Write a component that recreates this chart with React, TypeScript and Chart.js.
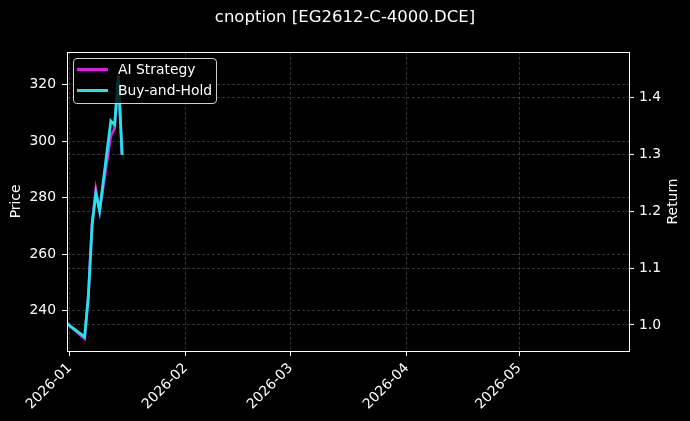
import { useEffect, useRef } from "react";
import { Chart, registerables } from "chart.js";

Chart.register(...registerables);

// trading days and normalized returns
const dates = [
  "2025-12-31", "2026-01-05", "2026-01-06", "2026-01-07", "2026-01-08",
  "2026-01-09", "2026-01-12", "2026-01-13", "2026-01-14", "2026-01-15",
];
const aiStrategy = [1.004, 0.976, 1.05, 1.178, 1.238, 1.2, 1.333, 1.345, 1.44, 1.299];
const buyAndHold = [1.004, 0.979, 1.051, 1.176, 1.232, 1.201, 1.359, 1.352, 1.438, 1.299];

const monthTicks = ["2026-01-01", "2026-02-01", "2026-03-01", "2026-04-01", "2026-05-01"];
const monthLabels = ["2026-01", "2026-02", "2026-03", "2026-04", "2026-05"];
const priceTicks = [240, 260, 280, 300, 320];
const returnTicks = [1.0, 1.1, 1.2, 1.3, 1.4];

const FONT = "DejaVu Sans";
const FS = 13.9;
const GRID = "rgba(150,150,150,0.5)";
const MAGENTA = "#dc1ee2";
const CYAN = "#1ee6e8";

function dayOffset(s: string): number {
  const [y, m, d] = s.split("-").map(Number);
  return (Date.UTC(y, m - 1, d) - Date.UTC(2026, 0, 1)) / 86400000;
}

// white box round the plot, plus the right axis title read bottom-to-top
const framePlugin = {
  id: "frame",
  afterDraw(chart: Chart) {
    const { ctx, chartArea: a } = chart;
    const l = Math.round(a.left) + 0.5;
    const t = Math.round(a.top) + 0.5;
    const r = Math.round(a.right) + 0.5;
    const b = Math.round(a.bottom) + 0.5;
    ctx.save();
    ctx.strokeStyle = "#ffffff";
    ctx.lineWidth = 1;
    ctx.strokeRect(l, t, r - l, b - t);
    ctx.translate(673, (a.top + a.bottom) / 2);
    ctx.rotate(-Math.PI / 2);
    ctx.fillStyle = "#ffffff";
    ctx.font = `${FS}px "${FONT}"`;
    ctx.textAlign = "center";
    ctx.textBaseline = "middle";
    ctx.fillText("Return", 0, 0);
    ctx.restore();
  },
};

export default function App() {
  const canvasRef = useRef<HTMLCanvasElement>(null);
  const chartRef = useRef<Chart | null>(null);

  useEffect(() => {
    document.body.style.margin = "0";
    document.body.style.background = "#000";
    if (!canvasRef.current) return;

    const xs = dates.map(dayOffset);
    const tickFont = { family: FONT, size: FS };
    const grid = { color: GRID, lineWidth: 0.7, tickColor: "#ffffff", tickLength: 5, tickWidth: 1 };
    const border = { display: false, dash: [3, 2] };

    chartRef.current?.destroy();
    chartRef.current = new Chart(canvasRef.current.getContext("2d")!, {
      type: "line",
      data: {
        datasets: [
          {
            label: "AI Strategy",
            data: xs.map((x, i) => ({ x, y: aiStrategy[i] })),
            borderColor: MAGENTA,
            borderWidth: 2.8,
            pointRadius: 0,
            tension: 0,
            yAxisID: "yRet",
            order: 1,
          },
          {
            label: "Buy-and-Hold",
            data: xs.map((x, i) => ({ x, y: buyAndHold[i] })),
            borderColor: CYAN,
            borderWidth: 2.8,
            pointRadius: 0,
            tension: 0,
            yAxisID: "yRet",
            order: 0,
          },
        ],
      },
      options: {
        responsive: false,
        animation: false,
        layout: { padding: 0 },
        plugins: {
          legend: { display: false },
          tooltip: { enabled: false },
          title: {
            display: true,
            text: "cnoption [EG2612-C-4000.DCE]",
            color: "#ffffff",
            font: { family: FONT, size: 16.5, weight: "normal" },
            padding: { top: 8, bottom: 24 },
          },
        },
        scales: {
          x: {
            type: "linear",
            min: -0.7,
            max: 149.3,
            afterBuildTicks: (s: any) => {
              s.ticks = monthTicks.map((d) => ({ value: dayOffset(d) }));
            },
            afterFit: (s: any) => {
              s.height = 70;
            },
            ticks: {
              color: "#ffffff",
              font: tickFont,
              minRotation: 45,
              maxRotation: 45,
              padding: 4,
              callback: (_v: any, i: number) => monthLabels[i],
            },
            grid,
            border,
          },
          yPrice: {
            type: "linear",
            position: "left",
            display: true,
            min: 225.7,
            max: 331.7,
            afterBuildTicks: (s: any) => {
              s.ticks = priceTicks.map((v) => ({ value: v }));
            },
            afterFit: (s: any) => {
              s.width = 67;
            },
            ticks: { color: "#ffffff", font: tickFont, padding: 6, callback: (v: any) => String(v) },
            grid,
            border,
            title: {
              display: true,
              text: "Price",
              color: "#ffffff",
              font: { family: FONT, size: FS },
              padding: { top: 8, bottom: 0 },
            },
          },
          yRet: {
            type: "linear",
            position: "right",
            min: 0.9542,
            max: 1.4805,
            afterBuildTicks: (s: any) => {
              s.ticks = returnTicks.map((v) => ({ value: v }));
            },
            afterFit: (s: any) => {
              s.width = 61;
            },
            ticks: {
              color: "#ffffff",
              font: tickFont,
              padding: 5,
              callback: (v: any) => Number(v).toFixed(1),
            },
            grid,
            border,
          },
        },
      },
      plugins: [framePlugin],
    } as any);

    return () => {
      chartRef.current?.destroy();
      chartRef.current = null;
    };
  }, []);

  const legendText = {
    position: "absolute" as const,
    left: 44,
    fontFamily: FONT,
    fontSize: FS,
    lineHeight: "16px",
    color: "#ffffff",
    whiteSpace: "nowrap" as const,
  };

  return (
    <div style={{ position: "relative", width: 690, height: 421, background: "#000" }}>
      <canvas ref={canvasRef} width={690} height={421} />
      <div
        style={{
          position: "absolute",
          left: 73,
          top: 58,
          width: 144,
          height: 46,
          boxSizing: "border-box",
          border: "1px solid #cfcfcf",
          borderRadius: 4,
          background: "rgba(0,0,0,0.8)",
        }}
      >
        <div style={{ position: "absolute", left: 3, top: 9, width: 31, height: 3, background: MAGENTA }} />
        <span style={{ ...legendText, top: 2 }}>AI Strategy</span>
        <div style={{ position: "absolute", left: 3, top: 30, width: 31, height: 3, background: CYAN }} />
        <span style={{ ...legendText, top: 23 }}>Buy-and-Hold</span>
      </div>
    </div>
  );
}
